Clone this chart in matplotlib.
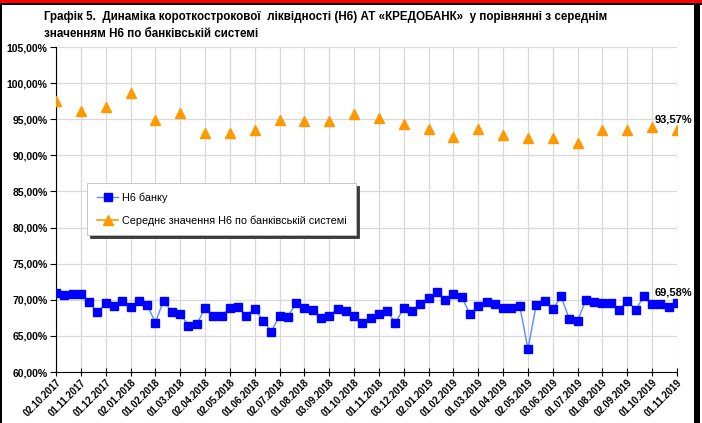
import numpy as np
import matplotlib
matplotlib.use("Agg")
import matplotlib.pyplot as plt
from matplotlib.ticker import FuncFormatter
from matplotlib.patches import Rectangle

plt.rcParams['font.family'] = ['Liberation Sans', 'DejaVu Sans']

title = ("Графік 5.  Динаміка короткострокової  ліквідності (Н6) АТ «КРЕДОБАНК»  у порівнянні з середнім\n"
         "значенням Н6 по банківській системі")

tick_dates = ["02.10.2017", "01.11.2017", "01.12.2017", "02.01.2018", "01.02.2018", "01.03.2018",
              "02.04.2018", "02.05.2018", "01.06.2018", "02.07.2018", "01.08.2018", "03.09.2018",
              "01.10.2018", "01.11.2018", "03.12.2018", "02.01.2019", "01.02.2019", "01.03.2019",
              "01.04.2019", "02.05.2019", "03.06.2019", "01.07.2019", "01.08.2019", "02.09.2019",
              "01.10.2019", "01.11.2019"]

bank_h6 = [70.93, 70.60, 70.83, 70.83, 69.63, 68.24, 69.54, 69.17, 69.77, 68.98,
           69.77, 69.31, 66.85, 69.90, 68.29, 68.06, 66.43, 66.62, 68.85, 67.82,
           67.82, 68.93, 69.03, 67.82, 68.75, 67.13, 65.60, 67.78, 67.68, 69.54,
           68.85, 68.61, 67.45, 67.82, 68.70, 68.51, 67.82, 66.76, 67.54, 68.01,
           68.38, 66.85, 68.85, 68.51, 69.40, 70.24, 71.07, 70.00, 70.79, 70.37,
           68.01, 69.17, 69.63, 69.44, 68.93, 68.93, 69.17, 63.19, 69.31, 69.90,
           68.70, 70.46, 67.31, 67.08, 70.00, 69.63, 69.54, 69.54, 68.61, 69.90,
           68.61, 70.46, 69.44, 69.40, 68.98, 69.58]

system_h6 = [97.54, 96.07, 96.71, 98.57, 94.90, 95.93, 93.06, 93.15, 93.51, 94.90,
             94.76, 94.76, 95.79, 95.14, 94.40, 93.71, 92.54, 93.61, 92.78, 92.36,
             92.40, 91.76, 93.51, 93.47, 93.99, 93.57]

series_names = ["Н6 банку", "Середнє значення Н6 по банківській системі"]

n = len(bank_h6)
step = (n - 1) // (len(tick_dates) - 1)
x = np.arange(n)
sys_full = np.full(n, np.nan)
sys_full[::step] = system_h6

fig = plt.figure(figsize=(7.02, 4.23), dpi=100)
ax = fig.add_axes([56/702, 51/423, 621/702, 325/423])

ax.plot(x, bank_h6, color="#5b8cff", lw=1.0, marker="s", ms=5.5,
        mfc="#0000ff", mec="#0000ff", label=series_names[0], zorder=3)
ax.plot(x, sys_full, color="#ff9900", lw=1.2, marker="^", ms=7,
        mfc="#ff9900", mec="#ff9900", label=series_names[1], zorder=3)

ax.set_xlim(0, n - 1)
ax.set_ylim(60, 105)
ax.set_yticks(np.arange(60, 105.1, 5))
ax.yaxis.set_major_formatter(FuncFormatter(lambda v, p: f"{v:.2f}%".replace(".", ",")))
ax.set_xticks(x[::step])
ax.set_xticklabels(tick_dates, rotation=45, ha="right", rotation_mode="anchor",
                   fontsize=6.9, fontweight="bold")
for lab in ax.get_yticklabels():
    lab.set_fontsize(7.5)
    lab.set_fontweight("bold")

ax.grid(True, color="#d9d9d9", lw=0.9)
ax.set_axisbelow(True)
for s in ["top", "right"]:
    ax.spines[s].set_visible(False)
ax.spines["left"].set_color("black")
ax.spines["bottom"].set_color("black")
ax.tick_params(axis="y", direction="out", length=4, width=0.8, pad=2)
ax.tick_params(axis="x", direction="inout", length=6, width=0.8, pad=1)

ax.annotate(f"{bank_h6[-1]:.2f}%".replace(".", ","), (x[-1], bank_h6[-1]),
            xytext=(-16, 5), textcoords="offset points", fontsize=8, fontweight="bold",
            annotation_clip=False)
ax.annotate(f"{system_h6[-1]:.2f}%".replace(".", ","), (x[-1], system_h6[-1]),
            xytext=(-16, 5), textcoords="offset points", fontsize=8, fontweight="bold",
            annotation_clip=False)

leg = fig.legend(loc="upper left", bbox_to_anchor=(87/702, 1 - 183/423),
                 fontsize=7.8, frameon=True, fancybox=False,
                 shadow={"color": "#3a3a3a", "alpha": 1.0},
                 borderpad=0.9, labelspacing=1.1, handlelength=2.0, handletextpad=0.3,
                 borderaxespad=0)
leg.get_frame().set_edgecolor("#bfbfbf")
leg.get_frame().set_linewidth(0.6)

fig.text(44/702, 1 - 11/423, title, fontsize=8.4, fontweight="bold", va="top",
         ha="left", linespacing=1.55)

# outer frame decorations
fig.patches.append(Rectangle((0, 1 - 3/423), 1, 3/423, transform=fig.transFigure,
                             facecolor="#ff0000", edgecolor="none"))
fig.patches.append(Rectangle((0, 1 - 5/423), 1, 2/423, transform=fig.transFigure,
                             facecolor="black", edgecolor="none"))
fig.patches.append(Rectangle((0, 0), 2/702, 1 - 3/423, transform=fig.transFigure,
                             facecolor="black", edgecolor="none"))
fig.patches.append(Rectangle((694/702, 0), 6/702, 1 - 3/423, transform=fig.transFigure,
                             facecolor="black", edgecolor="none"))

fig.savefig("out.png", dpi=100)
